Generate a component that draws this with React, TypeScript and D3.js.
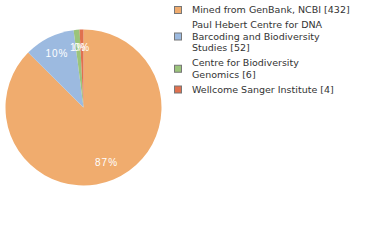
import React from "react";
import * as d3 from "d3";

const categories = [
  "Mined from GenBank, NCBI",
  "Paul Hebert Centre for DNA Barcoding and Biodiversity Studies",
  "Centre for Biodiversity Genomics",
  "Wellcome Sanger Institute",
];
const values = [432, 52, 6, 4];
const legendLines = [
  ["Mined from GenBank, NCBI [432]"],
  ["Paul Hebert Centre for DNA", "Barcoding and Biodiversity", "Studies [52]"],
  ["Centre for Biodiversity", "Genomics [6]"],
  ["Wellcome Sanger Institute [4]"],
];
const colors = ["#F0AC6E", "#9CBAE0", "#9BC47B", "#E0714F"];

export default function App() {
  const cx = 83.5, cy = 107.5, r = 78;
  const total = d3.sum(values);
  const pie = d3.pie<number>().sort(null).value((d) => d);
  const arcs = pie(values);
  const arc = d3.arc<d3.PieArcDatum<number>>().innerRadius(0).outerRadius(r);
  const labelArc = d3.arc<d3.PieArcDatum<number>>().innerRadius(60).outerRadius(60);
  const lineH = 11.5;
  let y = 10;
  const items = legendLines.map((lines, i) => {
    const top = y;
    y += lines.length * lineH + 3.5;
    return { lines, top, i };
  });
  return (
    <svg width={380} height={240} style={{ position: "absolute", left: 0, top: 0 }}>
      <g transform={`translate(${cx},${cy})`}>
        {arcs.map((a, i) => (
          <path key={i} d={arc(a) || ""} fill={colors[i]} />
        ))}
        {arcs.map((a, i) => {
          const [x, yy] = labelArc.centroid(a);
          return (
            <text key={i} x={x} y={yy} dy="0.35em" textAnchor="middle" fill="#fff"
              fontFamily="Liberation Sans, Arial, sans-serif" fontSize={10} letterSpacing={1}>
              {Math.floor((values[i] / total) * 100)}%
            </text>
          );
        })}
      </g>
      {items.map(({ lines, top, i }) => {
        const midY = top + ((lines.length - 1) * lineH) / 2;
        return (
          <g key={i}>
            <rect x={174.5} y={midY - 3.5} width={7} height={7} fill={colors[i]} stroke="#777" strokeWidth={1} />
            {lines.map((l, j) => (
              <text key={j} x={192} y={top + j * lineH} dy="0.35em" fill="#333"
                fontFamily="DejaVu Sans, sans-serif" fontSize={9.5}>
                {l}
              </text>
            ))}
          </g>
        );
      })}
    </svg>
  );
}
